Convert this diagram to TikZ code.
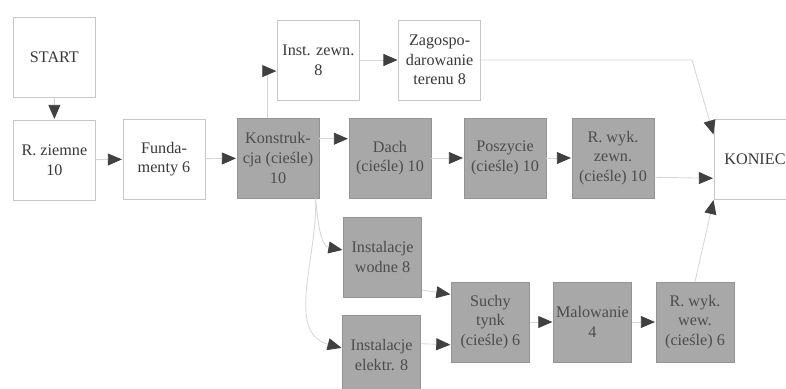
\documentclass[tikz,border=0pt]{standalone}
\usepackage{fontspec}
\setmainfont{Liberation Serif}
\usepackage{tikz}
\usetikzlibrary{arrows.meta}
\definecolor{boxline}{gray}{0.78}
\definecolor{boxfill}{gray}{0.66}
\definecolor{critline}{gray}{0.58}
\definecolor{flowline}{gray}{0.84}
\definecolor{tipgrey}{gray}{0.25}
\definecolor{textgrey}{gray}{0.22}
\tikzset{task/.style={draw=boxline, fill=white, line width=0.5pt, minimum width=2.05cm, minimum height=2cm, align=center, inner sep=1pt, text=textgrey, font=\fontsize{11.5}{14}\selectfont}}
\tikzset{crit/.style={task, draw=critline, fill=boxfill, text=black!70}}
\tikzset{low/.style={minimum width=1.95cm}}
\tikzset{flow/.style={draw=flowline, line width=0.6pt, shorten >=0.5pt, -{Triangle[length=10pt, width=8.5pt, color=tipgrey]}}}

\begin{document}
\begin{tikzpicture}
            \useasboundingbox (0, 0) rectangle (19.65, 9.725);
            \node[task] (start) at (1.36, 8.3) {START};
            \node[task] (rz) at (1.36, 5.725) {R. ziemne\\10};
            \node[task] (fund) at (4.1, 5.75) {Funda-\\menty 6};
            \node[crit] (kon) at (6.95, 5.775) {Konstruk-\\cja (cieśle)\\10};
            \node[crit] (dach) at (9.75, 5.775) {Dach\\(cieśle) 10};
            \node[crit] (posz) at (12.625, 5.775) {Poszycie\\(cieśle) 10};
            \node[crit] (rwz) at (15.325, 5.775) {R. wyk.\\zewn.\\(cieśle) 10};
            \node[task] (koniec) at (18.875, 5.75) {KONIEC};
            \node[task] (inz) at (7.96, 8.225) {Inst. zewn.\\8};
            \node[task] (zag) at (10.99, 8.225) {Zagospo-\\darowanie\\terenu 8};
            \node[crit, low] (inw) at (9.5625, 3.3) {Instalacje\\wodne 8};
            \node[crit, low] (inel) at (9.54, 0.85) {Instalacje\\elektr. 8};
            \node[crit, low] (sty) at (12.26, 1.675) {Suchy\\tynk\\(cieśle) 6};
            \node[crit, low] (mal) at (14.81, 1.675) {Malowanie\\4};
            \node[crit, low] (rww) at (17.375, 1.675) {R. wyk.\\wew.\\(cieśle) 6};
            \coordinate (zbend) at (17.3, 8.225);
            \foreach \a/\b in {start/rz, rz/fund, fund/kon, dach/posz, posz/rwz, inz/zag, sty/mal, mal/rww} {
                \draw[flow] (\a) -- (\b);
            }
            \draw[flow] (kon.25) -- (dach.155);
            \draw[flow] (kon.105) |- (inz.195);
            \draw[flow] (zag.east) -- (zbend) -- (koniec.150);
            \draw[flow] (rwz.-25) -- (koniec.205);
            \draw[flow] (rww.north) -- (koniec.south west);
            \draw[flow] (kon.-47) to[out=-85, in=170] (inw.170);
            \draw[flow] (kon.-47) to[out=-88, in=165] (inel.170);
            \draw[flow] (inw.-40) -- (sty.145);
            \draw[flow] (inel.16) -- (sty.210);
        \end{tikzpicture}
\end{document}
